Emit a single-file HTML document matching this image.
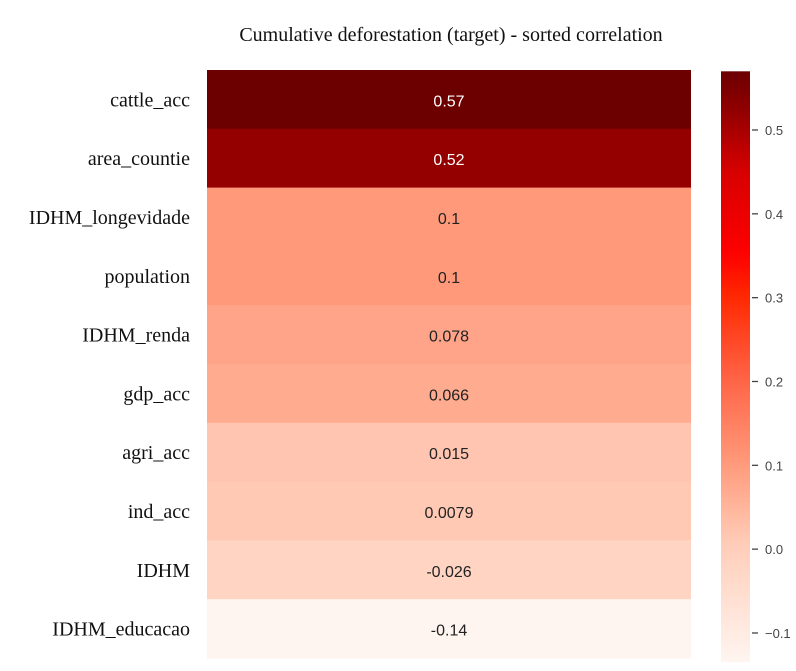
<!DOCTYPE html>
<html><head><meta charset="utf-8"><style>
body{margin:0;background:#fff;width:796px;height:666px;overflow:hidden}
</style></head><body>
<svg id="chart" width="796" height="666" xmlns="http://www.w3.org/2000/svg">
<defs><linearGradient id="cbgrad" x1="0" y1="0" x2="0" y2="1"></linearGradient></defs>
<text x="451" y="41" text-anchor="middle" font-family="Liberation Serif, serif" font-size="20" fill="#111">Cumulative deforestation (target) - sorted correlation</text>
<g id="cells"></g>
<g id="colorbar"></g>
</svg>
<script>
const categories=["cattle_acc","area_countie","IDHM_longevidade","population","IDHM_renda","gdp_acc","agri_acc","ind_acc","IDHM","IDHM_educacao"];
const values=[0.57,0.52,0.10,0.10,0.078,0.066,0.015,0.0079,-0.026,-0.14];
const valueLabels=["0.57","0.52","0.1","0.1","0.078","0.066","0.015","0.0079","-0.026","-0.14"];
const cbTicks=[0.5,0.4,0.3,0.2,0.1,0.0,-0.1];
const cbTickLabels=["0.5","0.4","0.3","0.2","0.1","0.0","\u22120.1"];
const vmin=-0.14, vmax=0.57;
const stops=[[-0.14,255,245,240],[0,255,205,185],[0.1,255,153,122],[0.2,255,100,70],[0.3,255,40,0],[0.35,255,0,0],[0.45,215,0,0],[0.52,148,0,0],[0.57,108,0,0]];
function color(v){
  v=Math.max(vmin,Math.min(vmax,v));
  for(let i=0;i<stops.length-1;i++){const a=stops[i],b=stops[i+1];
    if(v<=b[0]){const t=(v-a[0])/(b[0]-a[0]);
      return `rgb(${Math.round(a[1]+t*(b[1]-a[1]))},${Math.round(a[2]+t*(b[2]-a[2]))},${Math.round(a[3]+t*(b[3]-a[3]))})`;}}
  return `rgb(${stops[stops.length-1].slice(1).join(',')})`;
}
const NS="http://www.w3.org/2000/svg";
const hx0=207,hx1=691,hy0=70,rowH=58.8;
const rowY=i=>hy0+i*rowH;
const cells=document.getElementById('cells');
function mk(tag,attrs,parent){const e=document.createElementNS(NS,tag);for(const k in attrs)e.setAttribute(k,attrs[k]);parent.appendChild(e);return e;}
categories.forEach((c,i)=>{
  const r=mk('rect',{x:hx0,y:rowY(i),width:hx1-hx0,height:rowH+0.5,fill:color(values[i])},cells);
  
  
  const t=mk('text',{x:(hx0+hx1)/2,y:rowY(i)+rowH/2+7,'text-anchor':'middle','font-family':'Liberation Sans, sans-serif','font-size':16,fill:values[i]>0.35?'#fff':'#222'},cells);
  t.textContent=valueLabels[i];
  
  
  const l=mk('text',{x:190,y:rowY(i)+rowH/2+7,'text-anchor':'end','font-family':'Liberation Serif, serif','font-size':20,fill:'#111'},cells);
  l.textContent=c;
  
  
});
const cbx=721,cbw=29,cbBot=662;
const pxPerUnit=838.3, y05=130;
const cbY=v=>y05-(v-0.5)*pxPerUnit;
const grad=document.getElementById('cbgrad');
for(let k=0;k<=40;k++){const v=vmax-(vmax-vmin)*k/40;
  mk('stop',{offset:(k/40),'stop-color':color(v)},grad);}
const cb=document.getElementById('colorbar');
const cr=mk('rect',{x:cbx,y:cbY(vmax),width:cbw,height:cbBot-cbY(vmax),fill:'url(#cbgrad)'},cb);


cbTicks.forEach((v,i)=>{
  const y=cbY(v);
  const tl=mk('line',{x1:cbx+cbw+2,x2:cbx+cbw+8,y1:y,y2:y,stroke:'#444','stroke-width':1.3},cb);
  
  
  const t=mk('text',{x:cbx+cbw+15,y:y+5,'font-family':'Liberation Sans, sans-serif','font-size':13,fill:'#444'},cb);
  t.textContent=cbTickLabels[i];
  
  
});
</script>
</body></html>
